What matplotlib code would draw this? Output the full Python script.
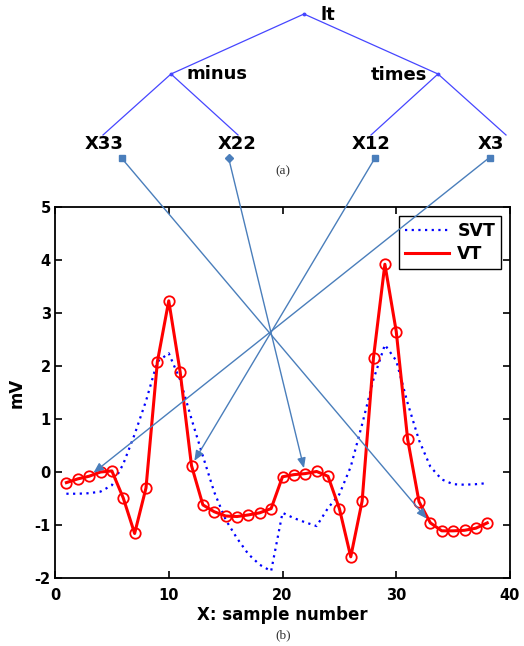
import matplotlib
matplotlib.use("Agg")
import matplotlib.pyplot as plt
import numpy as np

# ---------------- data ----------------
samples = list(range(1, 39))
vt = [-0.20, -0.13, -0.08, 0.00, 0.02, -0.49, -1.16, -0.30, 2.08, 3.23,
      1.89, 0.12, -0.62, -0.75, -0.83, -0.84, -0.81, -0.77, -0.69, -0.09,
      -0.05, -0.03, 0.01, -0.08, -0.69, -1.60, -0.55, 2.16, 3.92, 2.65,
      0.62, -0.56, -0.96, -1.11, -1.11, -1.10, -1.06, -0.96]
svt = [-0.41, -0.41, -0.40, -0.37, -0.25, 0.15, 0.71, 1.34, 2.08, 2.24,
       1.74, 1.00, 0.30, -0.38, -0.90, -1.25, -1.55, -1.75, -1.87, -0.77,
       -0.87, -0.95, -1.02, -0.68, -0.42, 0.10, 0.90, 1.75, 2.40, 2.10,
       1.30, 0.60, 0.10, -0.14, -0.23, -0.24, -0.23, -0.21]
xticks = [0, 10, 20, 30, 40]
yticks = [-2, -1, 0, 1, 2, 3, 4, 5]
series_labels = ["SVT", "VT"]
root_label = "lt"
inner_labels = ["minus", "times"]
leaf_labels = ["X33", "X22", "X12", "X3"]
leaf_features = [33, 22, 12, 3]

plt.rcParams['font.family'] = ['DejaVu Sans']
plt.rcParams['axes.unicode_minus'] = False

W, H = 524, 646
fig = plt.figure(figsize=(W / 100, H / 100), dpi=100)

ax = fig.add_axes([55 / W, 1 - 578 / H, (510 - 55) / W, (578 - 207) / H])
ax.plot(samples, svt, color='#0000ff', lw=1.6, linestyle=(0, (1, 2.0)), label=series_labels[0])
ax.plot(samples, vt, color='#ff0000', lw=2.2, label=series_labels[1])
ax.plot(samples, vt, linestyle='none', marker='o', markersize=7.5,
        markerfacecolor='none', markeredgecolor='#ff0000', markeredgewidth=1.3)
ax.set_xlim(0, 40)
ax.set_ylim(-2, 5)
ax.set_xticks(xticks)
ax.set_yticks(yticks)
ax.tick_params(direction='in', length=5, width=1.2, top=True, right=True,
               labelsize=10.5)
ax.tick_params(axis='x', pad=7)
ax.tick_params(axis='y', pad=3)
for lab in ax.get_xticklabels() + ax.get_yticklabels():
    lab.set_fontweight('bold')
for sp in ax.spines.values():
    sp.set_linewidth(1.3)
ax.set_xlabel("X: sample number", fontsize=12, fontweight='bold')
ax.xaxis.set_label_coords(0.5, -0.075)
ax.set_ylabel("mV", fontsize=12, fontweight='bold')
ax.yaxis.set_label_coords(-0.064, 0.5)
leg = ax.legend(loc='upper right', prop={'weight': 'bold', 'size': 12.5},
                fancybox=False, edgecolor='black', framealpha=1, handlelength=2.5,
                borderaxespad=0.5, borderpad=0.35, labelspacing=0.3, handletextpad=0.5)
leg.get_frame().set_linewidth(1.0)

# ---------------- overlay (tree + arrows) in pixel coordinates ----------------
ov = fig.add_axes([0, 0, 1, 1])
ov.set_xlim(0, W)
ov.set_ylim(H, 0)
ov.axis('off')
ov.patch.set_alpha(0)

tree_col = '#4646ff'
root = (304, 14)
inner = [(171, 74), (438, 74)]
leaves = [(103, 135), (238, 135), (371, 135), (506, 135)]
for n in inner:
    ov.plot([root[0], n[0]], [root[1], n[1]], color=tree_col, lw=0.9)
for i, lf in enumerate(leaves):
    p = inner[i // 2]
    ov.plot([p[0], lf[0]], [p[1], lf[1]], color=tree_col, lw=0.9)
for n in [root] + inner:
    ov.plot(n[0], n[1], marker='o', markersize=1.8, color=tree_col)

tfs = 13
ov.text(320, 15, root_label, fontsize=tfs, fontweight='bold', ha='left', va='center')
ov.text(186, 74, inner_labels[0], fontsize=tfs, fontweight='bold', ha='left', va='center')
ov.text(427, 75, inner_labels[1], fontsize=tfs, fontweight='bold', ha='right', va='center')
leaf_text_x = [104, 237, 371, 491]
for tx, lab in zip(leaf_text_x, leaf_labels):
    ov.text(tx, 144, lab, fontsize=tfs, fontweight='bold', ha='center', va='center')

ov.text(283, 171, "(a)", fontsize=9.5, family='Liberation Serif', color='#333333',
        ha='center', va='center')
ov.text(283, 635, "(b)", fontsize=9.5, family='Liberation Serif', color='#333333',
        ha='center', va='center')

arrow_col = '#4a7ebb'
starts = [(121.5, 158), (228.5, 157.5), (375, 158), (489.5, 157.5)]
start_markers = ['s', 'D', 's', 's']
fig.canvas.draw()
for (sx, sy), feat, mk in zip(starts, leaf_features, start_markers):
    disp = ax.transData.transform((feat, vt[feat - 1]))
    tx, ty = ov.transData.inverted().transform(disp)
    ov.annotate("", xy=(tx, ty), xytext=(sx, sy),
                arrowprops=dict(arrowstyle='-|>,head_length=0.6,head_width=0.25',
                                color=arrow_col, lw=1.0, shrinkA=0, shrinkB=4),
                annotation_clip=False)
    ov.plot(sx, sy, marker=mk, markersize=4.2 if mk == 's' else 4.0, color=arrow_col)

fig.savefig("out.png", dpi=100)
